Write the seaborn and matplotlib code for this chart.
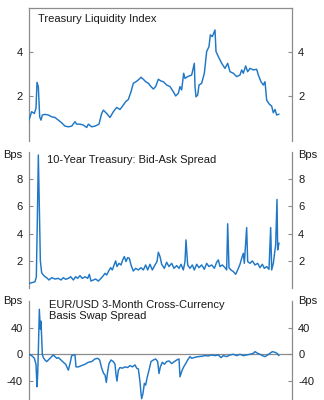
import matplotlib
matplotlib.use("Agg")
import matplotlib.pyplot as plt
import seaborn as sns
import pandas as pd

# Weekly observations, weeks counted from the start of the sample
liq_weeks = [0, 8, 16, 21, 24, 28, 32, 36, 40, 48, 58, 68, 78, 88, 98, 108, 118, 128, 138, 143,
             153, 163, 173, 178, 188, 198, 210, 218, 223, 233, 243, 253, 263, 273, 283, 290, 298, 306, 313, 321,
             328, 336, 343, 350, 358, 366, 373, 380, 388, 396, 403, 413, 423, 433, 440, 448, 453, 458, 464, 468,
             476, 488, 496, 498, 501, 506, 510, 518, 526, 533, 540, 544, 550, 554, 558, 561, 568, 578, 588, 596,
             603, 613, 623, 633, 638, 643, 650, 656, 663, 673, 683, 688, 696, 703, 708, 713, 721, 728, 733, 738,
             743, 750]
liq_index = [0.93, 1.31, 1.23, 1.46, 2.63, 2.44, 1.08, 0.93, 1.16, 1.19, 1.16, 1.08, 1.05, 0.93, 0.81, 0.66, 0.63, 0.66, 0.86, 0.75,
             0.75, 0.71, 0.60, 0.75, 0.63, 0.66, 0.75, 1.23, 1.38, 1.23, 1.05, 1.31, 1.50, 1.41, 1.61, 1.76, 1.86, 2.21, 2.59, 2.66,
             2.74, 2.86, 2.77, 2.66, 2.59, 2.44, 2.33, 2.44, 2.77, 2.69, 2.66, 2.51, 2.44, 2.21, 2.02, 2.14, 2.44, 2.29, 3.04, 2.81,
             2.89, 2.96, 3.49, 2.44, 1.98, 2.06, 2.51, 2.59, 3.04, 4.02, 4.24, 4.77, 4.69, 4.84, 4.99, 4.02, 3.79, 3.49, 3.26, 3.49,
             3.11, 3.04, 2.89, 2.96, 3.19, 3.04, 3.37, 3.11, 3.26, 3.19, 3.22, 2.96, 2.66, 2.51, 2.66, 1.83, 1.65, 1.56, 1.26, 1.41,
             1.16, 1.20]

spread_weeks = [0, 13, 18, 22, 25, 28, 31, 34, 38, 43, 48, 53, 60, 68, 78, 88, 96, 103, 110, 118,
                125, 133, 140, 146, 153, 160, 168, 176, 181, 186, 193, 200, 208, 216, 223, 228, 233, 238, 245, 250,
                256, 260, 264, 270, 276, 281, 286, 291, 296, 301, 306, 313, 320, 328, 336, 343, 350, 356, 363, 370,
                378, 384, 388, 393, 398, 406, 413, 420, 428, 435, 443, 450, 456, 463, 468, 471, 476, 483, 490, 496,
                503, 510, 518, 526, 533, 540, 548, 556, 563, 568, 573, 580, 588, 593, 596, 600, 606, 613, 620, 626,
                633, 638, 643, 646, 653, 656, 663, 670, 678, 686, 693, 700, 706, 713, 720, 725, 728, 733, 736, 740,
                744, 746, 750]
bid_ask_bps = [0.32, 0.40, 0.44, 0.80, 5.00, 9.80, 6.00, 2.00, 1.10, 0.94, 0.81, 0.74, 0.57, 0.74, 0.64, 0.69, 0.57, 0.74, 0.62, 0.69,
               0.81, 0.57, 0.81, 0.69, 0.89, 0.69, 0.81, 0.69, 0.99, 0.49, 0.57, 0.64, 0.49, 0.69, 0.89, 1.06, 0.94, 1.19, 1.48, 1.31,
               1.73, 1.98, 1.56, 1.80, 1.68, 2.05, 2.30, 1.93, 2.22, 2.17, 1.68, 1.23, 1.43, 1.31, 1.48, 1.31, 1.68, 1.31, 1.73, 1.31,
               1.68, 1.93, 2.62, 2.30, 1.73, 1.43, 1.88, 1.56, 1.80, 1.43, 1.63, 1.43, 1.73, 1.31, 1.93, 3.53, 1.68, 1.43, 1.68, 1.31,
               1.73, 1.48, 1.68, 1.36, 1.80, 1.56, 1.68, 1.43, 1.88, 2.05, 1.56, 1.68, 1.48, 1.31, 4.72, 1.48, 1.31, 1.19, 0.99, 1.31,
               1.73, 2.17, 2.54, 1.80, 4.44, 1.93, 1.80, 1.98, 1.68, 1.80, 1.48, 1.73, 1.43, 1.56, 1.36, 4.44, 1.31, 1.80, 2.42, 3.16,
               6.52, 2.79, 3.30]

basis_weeks = [0, 8, 16, 21, 24, 26, 28, 31, 34, 36, 40, 43, 48, 53, 58, 63, 68, 73, 78, 83,
               88, 96, 103, 110, 118, 123, 128, 134, 138, 141, 148, 158, 168, 178, 188, 198, 206, 212, 218, 224,
               228, 232, 236, 240, 246, 253, 258, 261, 264, 268, 273, 280, 288, 296, 303, 310, 318, 323, 328, 333,
               336, 338, 342, 346, 350, 354, 360, 366, 373, 380, 386, 390, 394, 400, 406, 413, 420, 428, 436, 443,
               450, 453, 458, 463, 470, 476, 483, 488, 498, 508, 518, 528, 538, 548, 558, 568, 576, 583, 593, 603,
               613, 623, 633, 643, 653, 663, 673, 678, 686, 693, 700, 708, 716, 723, 730, 738, 744, 750]
basis_bps = [0, -2, -6, -15, -49, -31, 4, 68, 38, 50, 0, -5, -8.6, -11, -8.6, -6, -3.5, -1, -3.5, -6,
             -5, -8.6, -12, -15, -24, -14, -2, -1, -1, -19, -19, -17, -15, -12, -11, -7, -6, -8.6, -21, -29,
             -31, -42.5, -26, -14, -8.6, -11, -15, -31, -40.5, -24, -20, -21, -19, -20, -17, -19, -16, -21, -22, -41.5,
             -59, -67, -59, -44, -46.5, -36, -24, -11, -8.6, -7, -11, -29, -19, -12, -15, -11, -10, -14, -11, -8.6,
             -7, -34, -26, -20, -14, -8.6, -3.5, -6, -4.5, -3.5, -3, -2, -2.5, -1, -2, -1, -5, -2, -3.5, -1,
             0, -2, 0, -2, -1, 0, 1.5, 4, 1.5, 0, -2, -3.5, -1, 1.5, 4, 3, 1.5, -2]

panel_titles = ["Treasury Liquidity Index",
                "10-Year Treasury: Bid-Ask Spread",
                "EUR/USD 3-Month Cross-Currency\nBasis Swap Spread"]
liq_ticks = [2, 4]
spread_ticks = [2, 4, 6, 8]
basis_ticks = [-40, 0, 40]

sns.set_theme(style="white")
plt.rcParams["font.family"] = ["Liberation Sans", "DejaVu Sans"]

LINE = "#1f77c6"
SPINE = "#8c8c8c"
TEXT = "#1a1a1a"
FS = 8

W, H = 324, 400
fig = plt.figure(figsize=(W / 100, H / 100), dpi=100)

def px_axes(top, bottom):
    left, right = 29, 292
    return fig.add_axes([left / W, 1 - bottom / H, (right - left) / W, (bottom - top) / H])

ax1 = px_axes(7.5, 140.8)
ax2 = px_axes(152.3, 287.7)
ax3 = px_axes(301.3, 407.3)

frames = [
    (ax1, pd.DataFrame({"week": liq_weeks, "value": liq_index}), (0, 6), liq_ticks),
    (ax2, pd.DataFrame({"week": spread_weeks, "value": bid_ask_bps}), (0, 10), spread_ticks),
    (ax3, pd.DataFrame({"week": basis_weeks, "value": basis_bps}), (-80, 80), basis_ticks),
]

for i, (ax, df, ylim, ticks) in enumerate(frames):
    if i == 2:
        ax.axhline(0, color=SPINE, lw=0.9, zorder=1)
    sns.lineplot(data=df, x="week", y="value", ax=ax, color=LINE, lw=1.05,
                 estimator=None, zorder=3)
    ax.set_xlim(0, 789)
    ax.set_ylim(*ylim)
    ax.set_xlabel("")
    ax.set_ylabel("")
    ax.set_xticks([])
    ax.set_yticks(ticks)
    ax.set_yticklabels([f"{t:g}" for t in ticks])
    ax.tick_params(axis="y", which="both", direction="in", length=3, width=0.8,
                   color=SPINE, labelsize=FS, labelcolor=TEXT, pad=4.5,
                   left=True, right=True, labelleft=True, labelright=True)
    for side in ("left", "right"):
        ax.spines[side].set_color(SPINE)
        ax.spines[side].set_linewidth(0.9)
    ax.spines["bottom"].set_visible(False)
    ax.spines["top"].set_visible(i == 0)
    ax.spines["top"].set_color(SPINE)
    ax.spines["top"].set_linewidth(0.9)
    ax.patch.set_alpha(0)

ax1.text(9 / 263, 1 - 12 / 133.3, panel_titles[0], transform=ax1.transAxes,
         ha="left", va="center", fontsize=FS, color=TEXT)
ax2.text(18 / 263, 1 - 8 / 135.4, panel_titles[1], transform=ax2.transAxes,
         ha="left", va="center", fontsize=FS, color=TEXT)
ax3.text(20 / 263, 1 + 1 / 106, panel_titles[2], transform=ax3.transAxes,
         ha="left", va="top", fontsize=FS, color=TEXT, linespacing=1.05)

for ax, yb in ((ax2, 1 - 3 / 135.4), (ax3, 1.0)):
    ax.text(-0.025, yb, "Bps", transform=ax.transAxes, ha="right", va="center",
            fontsize=FS, color=TEXT)
    ax.text(1.025, yb, "Bps", transform=ax.transAxes, ha="left", va="center",
            fontsize=FS, color=TEXT)

fig.savefig("out.png", dpi=100, facecolor="white")
